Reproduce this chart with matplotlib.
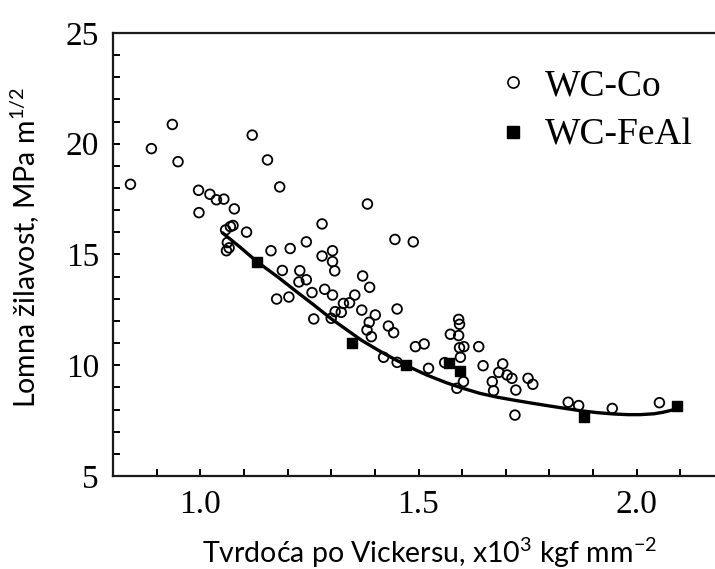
import numpy as np
import matplotlib.pyplot as plt
from matplotlib.ticker import MultipleLocator
from matplotlib.lines import Line2D

# WC-Co tocke (odcitano s slike)
co_x = [0.840, 0.888, 0.936, 0.949, 0.996, 0.997, 1.022, 1.037, 1.054, 1.078,
        1.058, 1.075, 1.069, 1.106, 1.062, 1.060, 1.066, 1.119, 1.154, 1.182,
        1.162, 1.206, 1.243, 1.188, 1.228, 1.226, 1.243, 1.175, 1.203,
        1.256, 1.260, 1.279, 1.279, 1.303, 1.303, 1.308, 1.285, 1.303, 1.300,
        1.309, 1.323, 1.328, 1.342, 1.354, 1.372, 1.388, 1.370, 1.383, 1.446,
        1.488, 1.451, 1.401, 1.387, 1.382, 1.392, 1.431, 1.443, 1.420, 1.451,
        1.493, 1.513, 1.523, 1.592, 1.594, 1.573, 1.592, 1.604, 1.594, 1.638,
        1.596, 1.648, 1.560, 1.603, 1.588, 1.693, 1.684, 1.669, 1.703, 1.714,
        1.723, 1.672, 1.751, 1.762, 1.721, 1.843, 1.867, 1.944, 2.052]
co_y = [18.17, 19.78, 20.87, 19.19, 17.90, 16.89, 17.72, 17.47, 17.50, 17.06,
        16.11, 16.31, 16.26, 16.01, 15.54, 15.17, 15.30, 20.39, 19.27, 18.05,
        15.17, 15.27, 15.57, 14.28, 14.27, 13.76, 13.86, 12.99, 13.08,
        13.28, 12.09, 16.38, 14.93, 15.17, 14.68, 14.26, 13.43, 13.17, 12.12,
        12.42, 12.39, 12.79, 12.82, 13.17, 14.03, 13.52, 12.49, 17.28, 15.68,
        15.57, 12.54, 12.27, 11.94, 11.59, 11.29, 11.77, 11.47, 10.36, 10.13,
        10.84, 10.96, 9.86, 12.07, 11.85, 11.40, 11.34, 10.84, 10.79, 10.84,
        10.36, 9.98, 10.12, 9.26, 8.96, 10.06, 9.68, 9.26, 9.56, 9.41,
        8.88, 8.85, 9.41, 9.14, 7.75, 8.33, 8.18, 8.05, 8.31]

# WC-FeAl tocke
feal_x = [1.131, 1.348, 1.471, 1.570, 1.594, 1.880, 2.092]
feal_y = [14.66, 11.00, 9.99, 10.10, 9.72, 7.68, 8.16]

# krivulja (odcitano)
fit_x = [1.052, 1.09, 1.131, 1.18, 1.22, 1.259, 1.30, 1.335, 1.37, 1.412,
         1.45, 1.488, 1.52, 1.564, 1.60, 1.641, 1.68, 1.717, 1.75, 1.794,
         1.83, 1.870, 1.91, 1.947, 1.98, 2.008, 2.04, 2.061, 2.08, 2.10]
fit_y = [15.96, 15.35, 14.66, 13.95, 13.33, 12.74, 12.10, 11.61, 11.12, 10.63,
         10.22, 9.84, 9.55, 9.21, 8.97, 8.73, 8.56, 8.43, 8.32, 8.18,
         8.07, 7.95, 7.86, 7.80, 7.77, 7.77, 7.81, 7.88, 7.97, 8.08]

plt.rcParams['font.family'] = 'Liberation Serif'
plt.rcParams['mathtext.fontset'] = 'custom'
plt.rcParams['mathtext.rm'] = 'Lato'
plt.rcParams['mathtext.default'] = 'regular'

fig = plt.figure(figsize=(7.15, 5.69), dpi=100)
ax = fig.add_axes([113/715, 1 - 476/569, (724 - 113)/715, (476 - 33)/569])

ax.scatter(co_x, co_y, s=48, facecolors='none', edgecolors='black',
           linewidths=1.3, zorder=2)
ax.plot(fit_x, fit_y, color='black', linewidth=2.4, zorder=3)
ax.scatter(feal_x, feal_y, s=58, marker='s', color='black', zorder=4)

ax.set_xlim(0.8, 2.2)
ax.set_ylim(5, 25)
ax.xaxis.set_major_locator(MultipleLocator(0.5))
ax.xaxis.set_minor_locator(MultipleLocator(0.1))
ax.yaxis.set_major_locator(MultipleLocator(5))
ax.yaxis.set_minor_locator(MultipleLocator(1))
ax.tick_params(which='both', direction='in', top=False, right=False,
               length=5, width=1.4, labelsize=24, pad=10)

for s in ax.spines.values():
    s.set_linewidth(1.6)
    s.set_color('#1a1a1a')

ax.set_xlabel(r'Tvrdoća po Vickersu, x10$^{3}$ kgf mm$^{-2}$',
              fontfamily='Lato', fontsize=20.5)
ax.xaxis.label.set_va('baseline')
ax.xaxis.set_label_coords((430 - 113)/611, (476 - 563)/443)

ax.set_ylabel(r'Lomna žilavost, MPa m$^{1/2}$', fontfamily='Lato', fontsize=20.5)
ax.yaxis.set_label_coords(-0.117, (476 - 247)/443)

# legenda s vecjimi markerji
h_co = Line2D([], [], marker='o', linestyle='none', markersize=8,
              markerfacecolor='none', markeredgecolor='black', markeredgewidth=1.2)
h_feal = Line2D([], [], marker='s', linestyle='none', markersize=8.5,
                color='black')
ax.legend([h_co, h_feal], ['WC-Co', 'WC-FeAl'], loc='upper left',
          bbox_to_anchor=(498/715, 1 - 69/569), bbox_transform=fig.transFigure,
          frameon=False, fontsize=27, numpoints=1, handlelength=0.8,
          handletextpad=0.45, labelspacing=0.39, borderpad=0, borderaxespad=0)

fig.savefig('out.png', dpi=100)
